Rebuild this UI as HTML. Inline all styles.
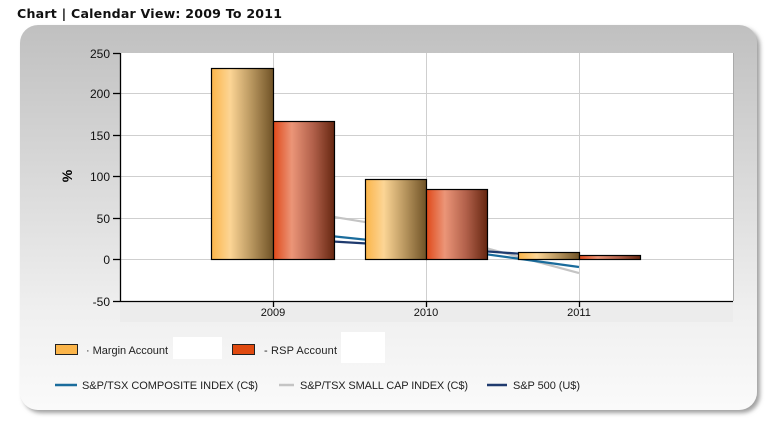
<!DOCTYPE html>
<html><head><meta charset="utf-8"><style>
body{margin:0;background:#fff;width:768px;height:425px;overflow:hidden;font-family:"Liberation Sans",sans-serif}
</style></head><body>
<svg width="768" height="425" xmlns="http://www.w3.org/2000/svg" font-family="Liberation Sans, sans-serif">
<defs>
<linearGradient id="card" x1="0" y1="0" x2="0" y2="1">
<stop offset="0" stop-color="#c0c0c0"/><stop offset="0.75" stop-color="#f0f0f0"/><stop offset="1" stop-color="#fafafa"/></linearGradient>
<linearGradient id="m" x1="0" x2="1"><stop offset="0" stop-color="#fbb54a"/><stop offset="0.3" stop-color="#fcd595"/><stop offset="0.65" stop-color="#b7955e"/><stop offset="1" stop-color="#6f5226"/></linearGradient>
<linearGradient id="r" x1="0" x2="1"><stop offset="0" stop-color="#e04a1a"/><stop offset="0.3" stop-color="#eb9578"/><stop offset="0.65" stop-color="#b1604a"/><stop offset="1" stop-color="#652610"/></linearGradient>
<filter id="sh" x="-5%" y="-5%" width="110%" height="110%"><feDropShadow dx="3" dy="3" stdDeviation="2" flood-color="#777" flood-opacity="0.7"/></filter>
</defs>
<text x="17" y="18" font-size="12.6" font-weight="bold" font-family="DejaVu Sans, sans-serif" fill="#111" textLength="265">Chart | Calendar View: 2009 To 2011</text>
<rect x="20" y="25" width="737" height="385" rx="18" fill="url(#card)" filter="url(#sh)"/>
<rect x="120" y="53" width="613" height="248" fill="#fff"/>
<rect x="120" y="302" width="613" height="20" fill="#ececec"/>
<g stroke="#cfcfcf" stroke-width="1">
<line x1="120" y1="93.5" x2="733" y2="93.5"/><line x1="120" y1="135.5" x2="733" y2="135.5"/><line x1="120" y1="176.5" x2="733" y2="176.5"/><line x1="120" y1="218.5" x2="733" y2="218.5"/><line x1="120" y1="259.5" x2="733" y2="259.5"/>
<line x1="273.5" y1="53" x2="273.5" y2="301"/><line x1="426.5" y1="53" x2="426.5" y2="301"/><line x1="579.5" y1="53" x2="579.5" y2="301"/>
</g>
<line x1="733.5" y1="53" x2="733.5" y2="301" stroke="#aaa"/>
<g fill="none" stroke-width="2.2">
<polyline points="273,207 426,232 579,273" stroke="#c4c4c4"/>
<polyline points="273,238 426,247 579,258" stroke="#1f3a6e"/>
<polyline points="273,230 426,246 579,267" stroke="#1a6c9c"/>
</g>
<g stroke="#000" stroke-width="1.2">
<rect x="211.5" y="68.5" width="62" height="191" fill="url(#m)"/>
<rect x="273.5" y="121.5" width="61" height="138" fill="url(#r)"/>
<rect x="365.5" y="179.5" width="61" height="80" fill="url(#m)"/>
<rect x="426.5" y="189.5" width="61" height="70" fill="url(#r)"/>
<rect x="518.5" y="252.5" width="61" height="7" fill="url(#m)"/>
<rect x="579.5" y="255.5" width="61" height="4" fill="url(#r)"/>
</g>
<g stroke="#000" stroke-width="1.3">
<line x1="120.5" y1="53" x2="120.5" y2="302"/><line x1="120" y1="301.5" x2="733" y2="301.5"/>
<line x1="113" y1="53.5" x2="120" y2="53.5"/><line x1="113" y1="93.5" x2="120" y2="93.5"/><line x1="113" y1="135.5" x2="120" y2="135.5"/><line x1="113" y1="176.5" x2="120" y2="176.5"/><line x1="113" y1="218.5" x2="120" y2="218.5"/><line x1="113" y1="259.5" x2="120" y2="259.5"/><line x1="113" y1="301.5" x2="120" y2="301.5"/>
<line x1="273.5" y1="301" x2="273.5" y2="307"/><line x1="426.5" y1="301" x2="426.5" y2="307"/><line x1="579.5" y1="301" x2="579.5" y2="307"/>
</g>
<g font-size="12" fill="#111" text-anchor="end">
<text x="110" y="58">250</text><text x="110" y="98">200</text><text x="110" y="140">150</text><text x="110" y="181">100</text><text x="110" y="223">50</text><text x="110" y="264">0</text><text x="110" y="306">-50</text>
</g>
<text transform="translate(72,176) rotate(-90)" font-size="14" font-weight="bold" text-anchor="middle">%</text>
<g font-size="11" fill="#111" text-anchor="middle">
<text x="273" y="316">2009</text><text x="426" y="316">2010</text><text x="579" y="316">2011</text>
</g>
<rect x="55.5" y="344.5" width="22" height="10" fill="#fbb54a" stroke="#222"/>
<text x="86" y="354" font-size="11" fill="#222" textLength="82">· Margin Account</text>
<rect x="173" y="337" width="49" height="22" fill="#fff"/>
<rect x="232.5" y="344.5" width="22" height="10" fill="#e04a10" stroke="#222"/>
<text x="264" y="354" font-size="11" fill="#222" textLength="73">- RSP Account</text>
<rect x="341" y="332" width="44" height="31" fill="#fff"/>
<g stroke-width="2.5"><line x1="55" y1="385" x2="77" y2="385" stroke="#1a6c9c"/><line x1="279" y1="385" x2="294" y2="385" stroke="#c4c4c4"/><line x1="487" y1="385" x2="507" y2="385" stroke="#1f3a6e"/></g>
<g font-size="11" fill="#222">
<text x="82" y="389" textLength="176">S&amp;P/TSX COMPOSITE INDEX (C$)</text>
<text x="300" y="389" textLength="168">S&amp;P/TSX SMALL CAP INDEX (C$)</text>
<text x="513" y="389" textLength="67">S&amp;P 500 (U$)</text>
</g>
</svg>
</body></html>
